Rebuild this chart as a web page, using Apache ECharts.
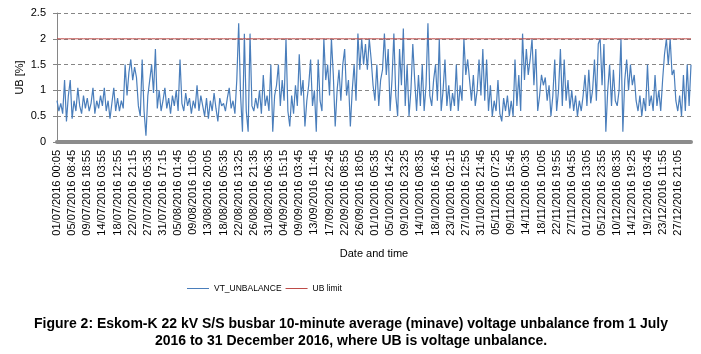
<!DOCTYPE html>
<html>
<head>
<meta charset="utf-8">
<script src="https://cdn.jsdelivr.net/npm/echarts@6/dist/echarts.min.js"></script>
<style>
  html, body { margin: 0; padding: 0; background: #fff; }
  #chart { width: 701px; height: 354px; }
</style>
</head>
<body>
<div id="chart"></div>
<script>
// tick labels, one every 8 samples
const tickLabels = [
  '01/07/2016 00:05', '05/07/2016 08:45', '09/07/2016 18:55', '14/07/2016 03:55',
  '18/07/2016 12:55', '22/07/2016 21:15', '27/07/2016 05:35', '31/07/2016 17:15',
  '05/08/2016 01:45', '09/08/2016 11:05', '13/08/2016 20:05', '18/08/2016 05:35',
  '22/08/2016 13:25', '26/08/2016 21:35', '31/08/2016 06:35', '04/09/2016 15:15',
  '09/09/2016 03:45', '13/09/2016 11:45', '17/09/2016 22:45', '22/09/2016 08:55',
  '26/09/2016 18:05', '01/10/2016 05:35', '05/10/2016 14:25', '09/10/2016 23:25',
  '14/10/2016 08:35', '18/10/2016 16:45', '23/10/2016 02:15', '27/10/2016 12:55',
  '31/10/2016 21:45', '05/11/2016 07:25', '09/11/2016 15:45', '14/11/2016 00:35',
  '18/11/2016 10:05', '22/11/2016 19:55', '27/11/2016 04:55', '01/12/2016 13:05',
  '05/12/2016 23:55', '10/12/2016 08:35', '14/12/2016 19:25', '19/12/2016 03:45',
  '23/12/2016 11:55', '27/12/2016 21:05'
]
const samplesPerTick = 8

// VT_UNBALANCE [%]
const unbalance = [
  0.8, 0.6, 0.75, 0.55, 1.2, 0.4, 0.9, 1.2,
  0.45, 0.8, 0.6, 1.05, 0.7, 0.55, 0.9, 0.65,
  0.85, 0.6, 0.75, 1.05, 0.55, 0.8, 0.65, 0.9,
  0.7, 1.05, 0.6, 0.8, 0.45, 0.75, 1.05, 0.6,
  0.85, 0.6, 0.8, 0.65, 1.5, 0.9, 1.35, 1.6,
  1.2, 1.45, 1.25, 0.7, 0.5, 1.6, 0.6, 0.12,
  0.9, 1.2, 1.5, 0.95, 1.8, 0.65, 1.0, 0.6,
  0.8, 1.05, 0.65, 0.85, 0.55, 0.9, 0.7, 1.0,
  0.6, 1.6, 0.75, 0.6, 0.95, 0.7, 0.85, 0.55,
  0.8, 0.65, 1.1, 0.6, 0.9, 0.7, 0.5, 0.85,
  0.45, 0.8, 0.6, 0.95, 0.65, 0.4, 0.85, 0.7,
  0.75, 0.6, 0.85, 1.05, 0.65, 0.8, 0.55, 1.2,
  2.3, 0.9, 0.2, 2.1, 0.6, 0.2, 2.1, 0.7,
  0.6, 0.85, 0.65, 1.0, 0.55, 1.3, 0.7, 0.9,
  0.6, 1.5, 0.2, 0.9, 1.1, 1.5, 0.7, 1.2,
  0.8, 2.0, 0.6, 0.3, 0.9, 0.55, 1.1, 0.7,
  1.7, 0.9, 1.2, 0.3, 0.8, 1.1, 1.6, 0.7,
  1.0, 0.2, 1.6, 0.8, 0.6, 2.0, 1.2, 1.5,
  0.9, 2.0, 1.3, 0.3, 1.0, 1.4, 0.8, 1.5,
  1.8, 0.9, 1.2, 0.3, 1.0, 1.5, 0.8, 2.1,
  1.4, 2.0, 1.5, 1.9, 1.4, 2.0, 1.6, 1.1,
  0.8, 1.5, 0.7, 1.2, 1.4, 2.1, 1.3, 1.8,
  0.6, 1.2, 2.1, 0.9, 0.5, 1.8, 1.1, 2.2,
  0.7, 1.5, 0.5, 1.0, 1.9, 1.2, 0.6, 1.3,
  0.7, 1.5, 0.6, 1.1, 2.3, 0.9, 0.7, 1.2,
  1.5, 0.8, 2.0, 0.6, 1.0, 1.6, 0.7, 1.1,
  0.6, 0.95, 0.7, 1.5, 0.6, 1.1, 0.8, 2.0,
  1.3, 1.6, 1.2, 0.8, 1.3, 0.7, 1.0, 1.6,
  0.9, 1.8, 0.8, 1.6, 0.6, 1.1, 0.5, 0.8,
  0.6, 1.2, 0.55, 0.4, 0.85, 0.6, 0.9, 0.5,
  0.8, 0.5, 1.6, 0.7, 1.3, 0.6, 2.1, 1.2,
  1.8, 1.3, 1.6, 2.0, 1.1, 1.8, 0.6, 0.9,
  1.3, 1.1, 1.25, 0.8, 1.1, 0.5, 0.9, 1.6,
  0.6, 1.0, 1.8, 0.7, 1.6, 0.8, 1.2, 0.65,
  1.0, 0.6, 0.9, 0.5, 0.8, 0.6, 0.9, 1.3,
  0.7, 1.4, 0.75, 1.0, 1.6, 0.8, 1.9, 2.0,
  1.1, 1.9, 0.2, 1.0, 1.5, 0.7, 1.4, 0.8,
  0.7, 1.0, 2.0, 0.2, 1.2, 1.6, 1.0, 1.5,
  1.1, 1.3, 0.8, 0.6, 0.9, 0.5, 0.85, 0.6,
  1.5, 0.7, 0.9, 0.6, 1.3, 0.7, 1.0, 0.6,
  1.2, 1.7, 2.0, 1.5, 2.0, 1.3, 1.4, 0.8,
  0.6, 0.9, 0.5, 1.3, 0.6, 1.5, 0.7, 1.5
]
const ubLimit = 2

const yTicks = [0, 0.5, 1, 1.5, 2, 2.5]

const lastIndex = unbalance.length - 1
const unbalanceData = unbalance.map((v, i) => [i, v])
const limitData = unbalance.map((v, i) => [i, ubLimit])

const chart = echarts.init(document.getElementById('chart'))
chart.setOption({
  animation: false,
  textStyle: { fontFamily: '"Liberation Sans", Arial, sans-serif' },
  grid: {
    left: 57,
    right: 10,
    top: 13,
    bottom: 212,
    outerBoundsMode: 'none'
  },
  title: {
    text: 'Figure 2: Eskom-K 22 kV S/S busbar 10-minute average (minave) voltage unbalance from 1 July\n2016 to 31 December 2016, where UB is voltage unbalance.',
    left: 351,
    top: 316,
    textAlign: 'center',
    padding: 0,
    textStyle: {
      fontSize: 14,
      fontWeight: 'bold',
      lineHeight: 17,
      color: '#000'
    }
  },
  legend: {
    top: 284,
    left: 187,
    padding: 0,
    icon: 'rect',
    itemWidth: 22,
    itemHeight: 1,
    itemGap: 4,
    data: ['VT_UNBALANCE', 'UB limit'],
    textStyle: {
      fontSize: 8.5,
      color: '#000'
    }
  },
  xAxis: {
    type: 'value',
    min: 0,
    max: lastIndex,
    interval: samplesPerTick,
    offset: 2,
    name: 'Date and time',
    nameLocation: 'middle',
    nameGap: 104,
    nameMoveOverlap: false,
    nameTextStyle: { fontSize: 11, color: '#000' },
    axisLine: { show: true, lineStyle: { color: '#8c8c8c', width: 4 } },
    axisTick: { show: false },
    splitLine: { show: false },
    axisLabel: {
      rotate: 90,
      margin: 6,
      fontSize: 11,
      color: '#000',
      showMaxLabel: false,
      formatter: function (v) {
        if (v % samplesPerTick !== 0) return ''
        return tickLabels[v / samplesPerTick] || ''
      }
    }
  },
  yAxis: {
    type: 'value',
    min: yTicks[0],
    max: yTicks[yTicks.length - 1],
    interval: 0.5,
    name: 'UB [%]',
    nameLocation: 'middle',
    nameGap: 32,
    nameMoveOverlap: false,
    nameTextStyle: { fontSize: 11, color: '#000' },
    axisLine: { show: true, lineStyle: { color: '#868686', width: 1 } },
    axisTick: { show: true, length: 4, lineStyle: { color: '#868686' } },
    axisLabel: { fontSize: 11, color: '#000', margin: 11 },
    splitLine: { show: true, lineStyle: { color: '#868686', type: [4, 3], width: 1 } }
  },
  series: [{
    name: 'VT_UNBALANCE',
    type: 'line',
    data: unbalanceData,
    showSymbol: false,
    symbol: 'none',
    itemStyle: { color: '#4a7ebb' },
    lineStyle: { color: '#4a7ebb', width: 1.2 }
  }, {
    name: 'UB limit',
    type: 'line',
    data: limitData,
    showSymbol: false,
    symbol: 'none',
    itemStyle: { color: '#be4b48' },
    lineStyle: { color: '#be4b48', width: 1 }
  }]
})
</script>
</body>
</html>
